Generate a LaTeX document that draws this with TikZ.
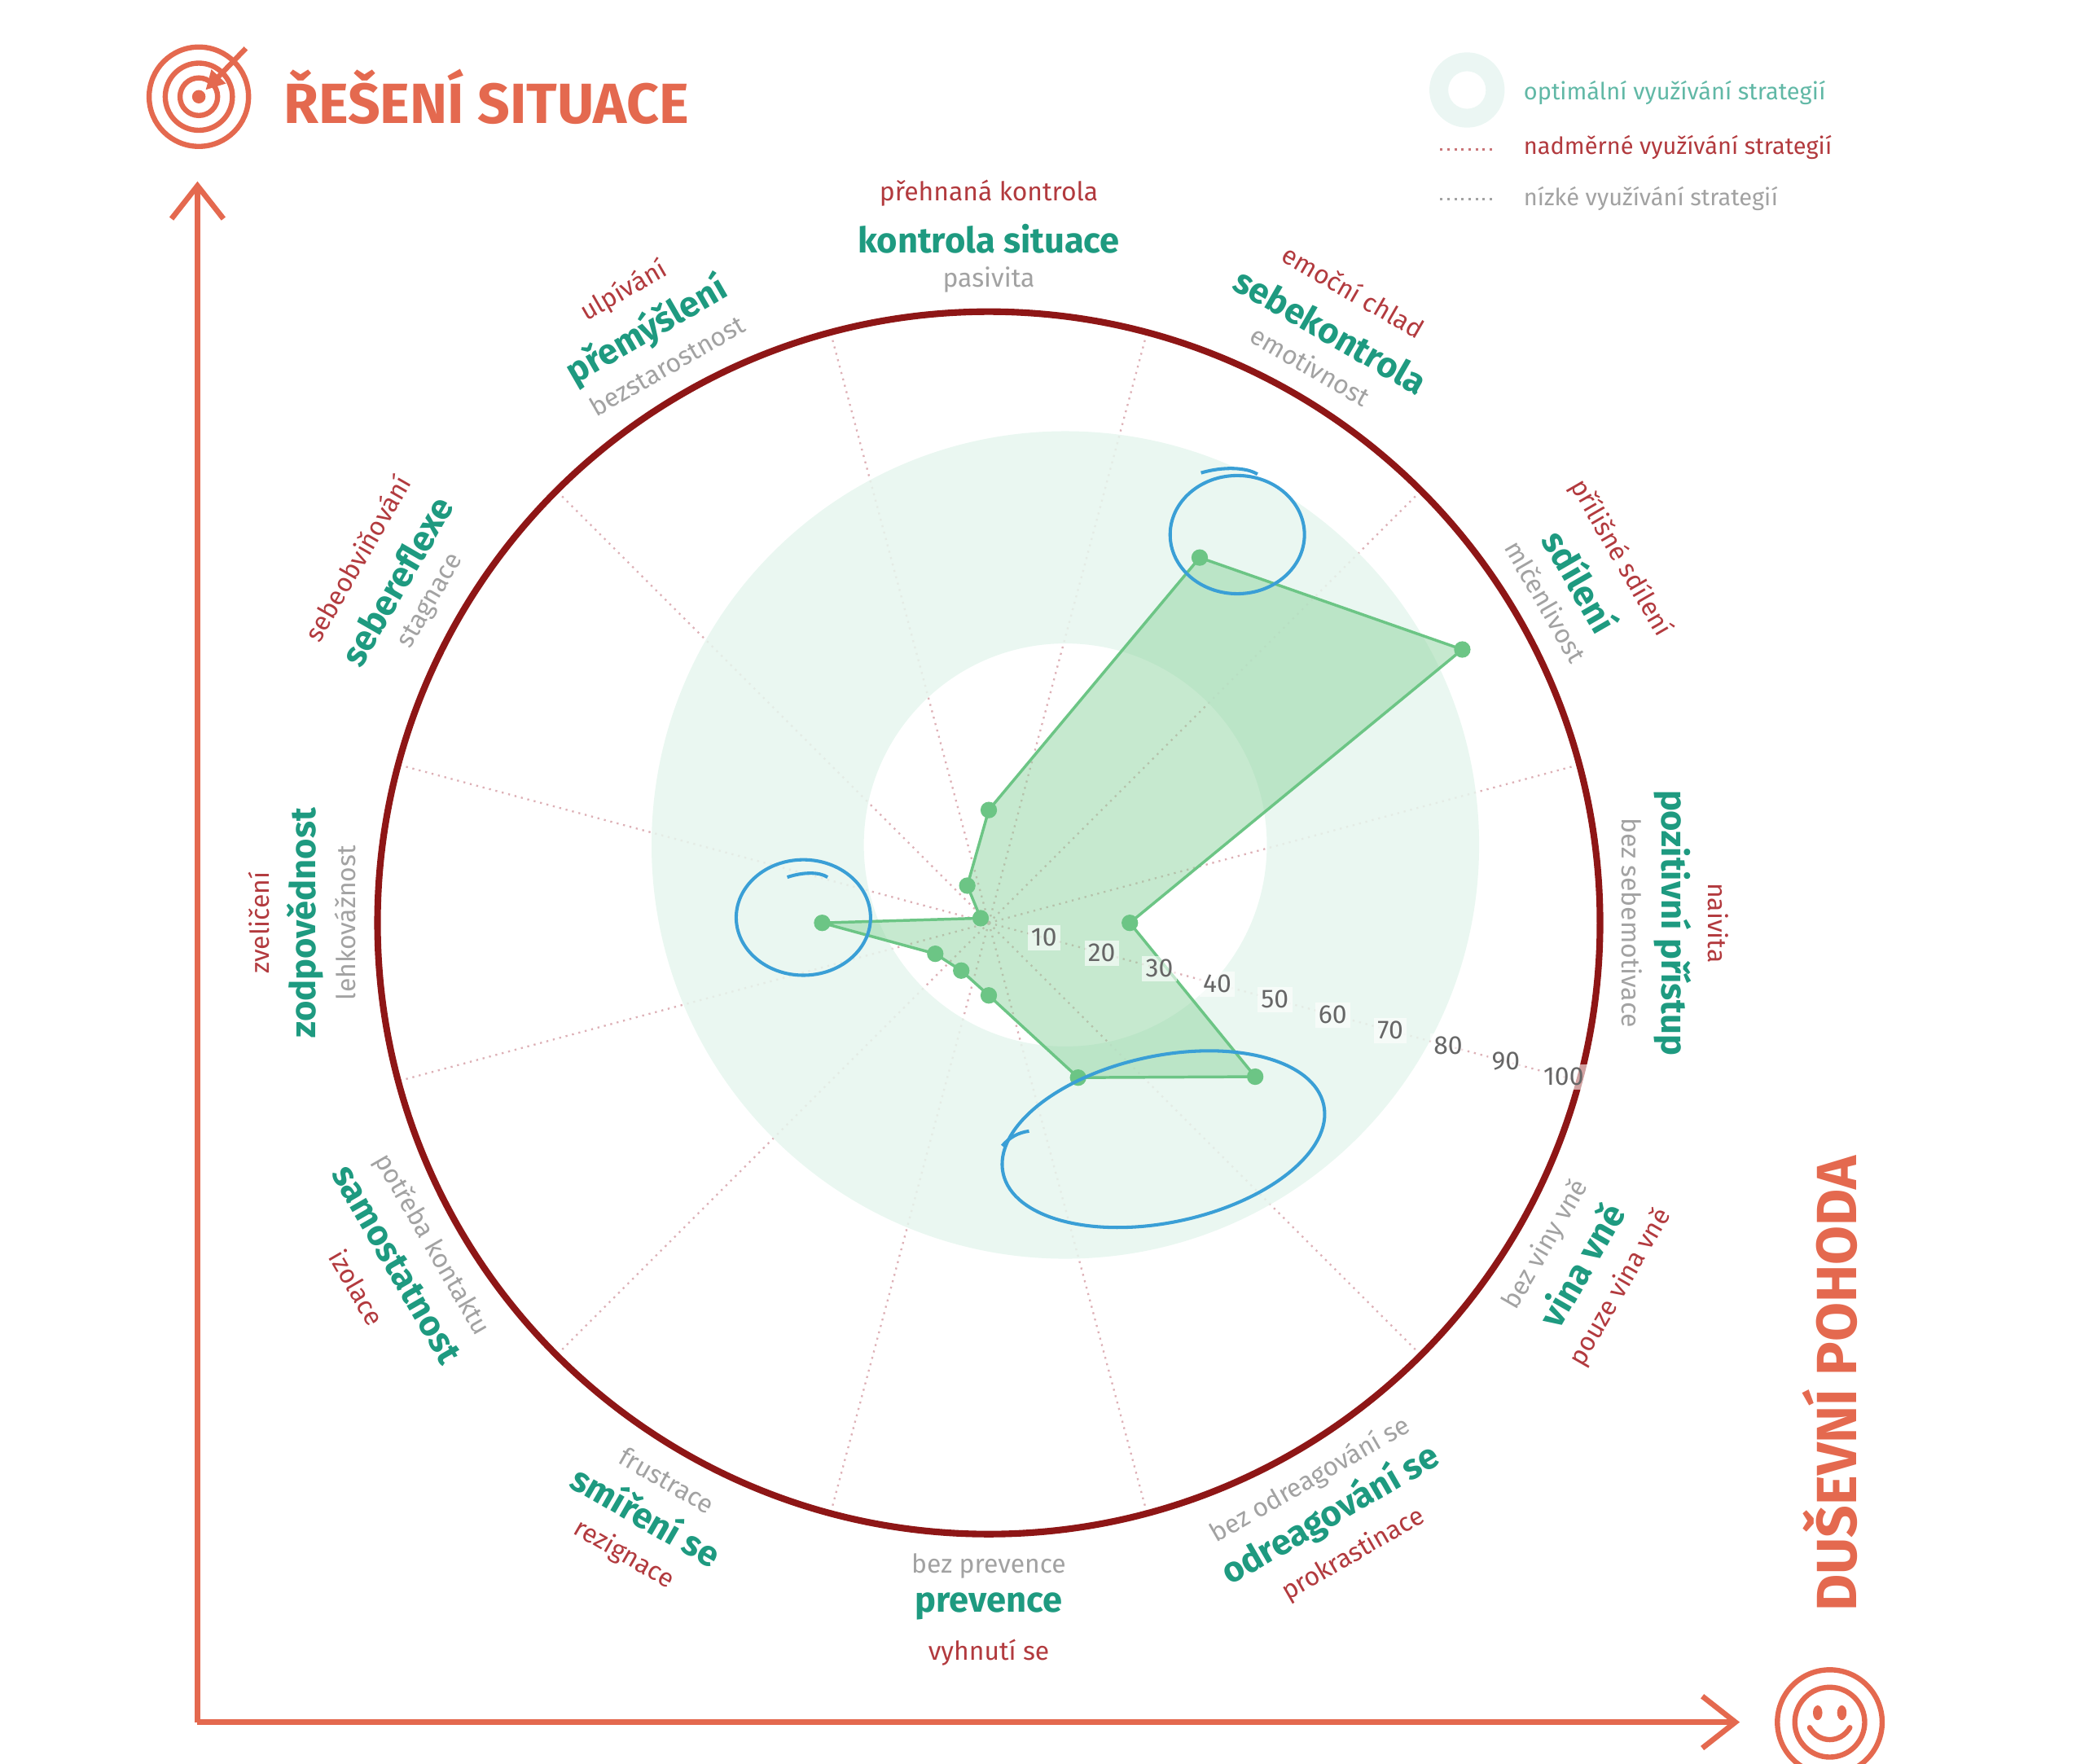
\documentclass[tikz,border=0pt]{standalone}
\usepackage{fontspec}
\setmainfont{Fira Sans}
\usetikzlibrary{arrows.meta,calc}
\definecolor{coral}{HTML}{E4694F}
\definecolor{wine}{HTML}{8E1616}
\definecolor{tealc}{HTML}{1E9A80}
\definecolor{redc}{HTML}{B23A3E}
\definecolor{grayc}{HTML}{A2A2A2}
\definecolor{ringc}{HTML}{E6F6EE}
\definecolor{polyc}{HTML}{8ED3A0}
\definecolor{dotc}{HTML}{6CC585}
\definecolor{penc}{HTML}{3A9FD6}
\definecolor{spokec}{HTML}{DDB0B6}
\tikzset{
  axisarrow/.style={draw=coral,line width=2.3pt,-{Straight Barb[length=14pt,width=22pt,line width=2.3pt]}},
  over/.style={text=redc,font=\fontsize{11}{12}\selectfont},
  main/.style={text=tealc,font=\fontsize{15}{16}\selectfont\bfseries},
  low/.style={text=grayc,font=\fontsize{11}{12}\selectfont},
  scalelab/.style={fill=white,fill opacity=0.6,text opacity=1,text=black!60,inner sep=1.5pt,font=\fontsize{11}{12}\selectfont},
  datapt/.style={circle,fill=dotc,inner sep=0pt,minimum size=7pt},
  pen/.style={draw=penc,line width=1.4pt},
  icon/.style={draw=coral,line width=2.2pt}
}
\begin{document}
\begin{tikzpicture}[x=0.02cm,y=0.02cm]
\useasboundingbox (0,0) rectangle (1552,1313);
\coordinate (c) at (736,626);
% spokes
\foreach \a in {15,45,...,345}
  \draw[spokec,dotted,line width=0.8pt] (c) -- ++(\a:455);
% optimal ring
\fill[ringc,opacity=0.85,even odd rule] (793,684) circle (308) (793,684) circle (150);
% outer circle
\draw[wine,line width=2.8pt] (c) circle (455);
% data points
\foreach \a/\r [count=\i] in {90/84,60/314,30/407,0/105,-30/229,-60/133,-90/54,-120/41,-150/46,180/124,150/7,120/32}
  \coordinate (p\i) at ($(c)+(\a:\r)$);
\fill[polyc,opacity=0.5] (p1)--(p2)--(p3)--(p4)--(p5)--(p6)--(p7)--(p8)--(p9)--(p10)--(p11)--(p12)--cycle;
\draw[dotc,line width=1.2pt,line join=round] (p1)--(p2)--(p3)--(p4)--(p5)--(p6)--(p7)--(p8)--(p9)--(p10)--(p11)--(p12)--cycle;
\foreach \i in {1,...,12}
  \node[datapt] (d\i) at (p\i) {};
% scale
\foreach \v in {10,20,...,100}
  \node[scalelab] (s\v) at ($(c)+(-15:4.45*\v-2)$) {\v};
% labels
\foreach \a/\o/\m/\l [count=\i] in {
  90/přehnaná kontrola/kontrola situace/pasivita,
  60/emoční chlad/sebekontrola/emotivnost,
  30/přílišné sdílení/sdílení/mlčenlivost,
  0/naivita/pozitivní přístup/bez sebemotivace,
  -30/pouze vina vně/vina vně/bez viny vně,
  -60/prokrastinace/odreagování se/bez odreagování se,
  -90/vyhnutí se/prevence/bez prevence,
  -120/rezignace/smíření se/frustrace,
  -150/izolace/samostatnost/potřeba kontaktu,
  180/zveličení/zodpovědnost/lehkovážnost,
  150/sebeobviňování/sebereflexe/stagnace,
  120/ulpívání/přemýšlení/bezstarostnost}{
  \pgfmathsetmacro\rot{\a<0 ? \a+90 : \a-90}
  \node[over,rotate=\rot] (o\i) at ($(c)+(\a:543)$) {\o};
  \node[main,rotate=\rot] (m\i) at ($(c)+(\a:509)$) {\m};
  \node[low,rotate=\rot] (l\i) at ($(c)+(\a:479)$) {\l};
}
% pen marks
\draw[pen] (921,915) ellipse (50 and 44);
\draw[pen] (894,961) .. controls (911,966) and (928,965) .. (936,960);
\draw[pen] (598,630) ellipse (50 and 43);
\draw[pen] (586,660) .. controls (598,664) and (610,664) .. (616,660);
\draw[pen,rotate around={12:(866,465)}] (866,465) ellipse (122 and 62);
\draw[pen] (746,460) .. controls (751,466) and (758,470) .. (766,471);
% axes
\coordinate (o) at (147,31);
\coordinate (ytop) at (147,1178);
\coordinate (xend) at (1295,31);
\draw[axisarrow] (o) -- (ytop);
\draw[axisarrow] (o) -- (xend);
% target icon
\node (target) at (148,1241) {};
\foreach \r in {37,25,14}
  \draw[icon] (target.center) circle (\r);
\fill[coral] (target.center) circle (5);
\draw[icon,-{Triangle[length=8pt,width=8pt]}] (183,1277) -- (153,1246);
\node[text=coral,font=\fontsize{24}{26}\selectfont\bfseries,anchor=west] (title) at (205,1241) {ŘEŠENÍ SITUACE};
% smiley
\node (smile) at (1362,31) {};
\draw[icon] (smile.center) circle (39);
\draw[icon] (smile.center) circle (26);
\fill[coral] ($(smile.center)+(-9,7)$) ellipse (3.5 and 5.5);
\fill[coral] ($(smile.center)+(9,7)$) ellipse (3.5 and 5.5);
\draw[icon,line cap=round] ($(smile.center)+(-15,-4)$) .. controls ($(smile.center)+(-8,-16)$) and ($(smile.center)+(8,-16)$) .. ($(smile.center)+(15,-4)$);
\node[text=coral,font=\fontsize{24}{26}\selectfont\bfseries,rotate=90] (wellbeing) at (1362,283) {DUŠEVNÍ POHODA};
% legend
\fill[ringc!80!tealc!90,even odd rule,opacity=0.35] (1092,1246) circle (28) (1092,1246) circle (14);
\node[anchor=west,text=tealc!70,font=\fontsize{10}{11}\selectfont] (leg1) at (1128,1244) {optimální využívání strategií};
\coordinate (l2a) at (1072,1202);
\coordinate (l2b) at (1112,1202);
\draw[redc!70,dotted,line width=1pt] (l2a) -- (l2b);
\node[anchor=west,text=redc,font=\fontsize{10}{11}\selectfont] (leg2) at (1128,1203) {nadměrné využívání strategií};
\coordinate (l3a) at (1072,1165);
\coordinate (l3b) at (1112,1165);
\draw[grayc,dotted,line width=1pt] (l3a) -- (l3b);
\node[anchor=west,text=grayc,font=\fontsize{10}{11}\selectfont] (leg3) at (1128,1165) {nízké využívání strategií};
\end{tikzpicture}
\end{document}
